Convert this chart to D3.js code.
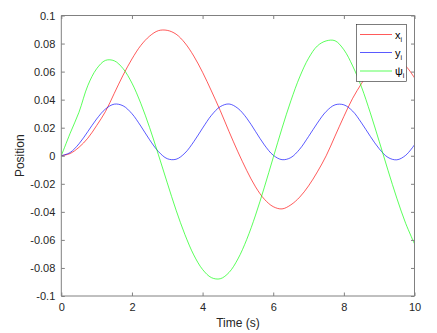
<!DOCTYPE html>
<html><head><meta charset="utf-8">
<script src="https://cdn.jsdelivr.net/npm/d3@7"></script>
<style>body{margin:0;background:#fff;}svg{display:block;font-family:"Liberation Sans",Arial,sans-serif;}</style>
</head><body>
<svg id="c" width="437" height="333"></svg>
<script>
const time = [0,0.25,0.5,0.75,1,1.25,1.5,1.75,2,2.25,2.5,2.75,3,3.25,3.5,3.75,4,4.25,4.5,4.75,5,5.25,5.5,5.75,6,6.25,6.5,6.75,7,7.25,7.5,7.75,8,8.25,8.5,8.75,9,9.25,9.5,9.75,10];
const xi = [0,0.0016,0.0060,0.0125,0.0215,0.0315,0.0445,0.0575,0.0690,0.0786,0.0853,0.0892,0.0894,0.0867,0.0804,0.0711,0.0595,0.0462,0.0322,0.0172,0.0028,-0.0105,-0.0222,-0.0310,-0.0363,-0.0379,-0.0350,-0.0295,-0.0215,-0.0115,0.0000,0.0140,0.0280,0.0410,0.0515,0.0610,0.0670,0.0690,0.0680,0.0640,0.0555];
const yi = [0,0.0023,0.0085,0.0172,0.0262,0.0333,0.0368,0.0356,0.0300,0.0212,0.0114,0.0030,-0.0021,-0.0025,0.0019,0.0100,0.0197,0.0288,0.0350,0.0369,0.0338,0.0268,0.0173,0.0077,0.0004,-0.0028,-0.0013,0.0047,0.0137,0.0233,0.0316,0.0363,0.0363,0.0318,0.0234,0.0138,0.0050,-0.0012,-0.0029,0.0003,0.0078];
const psi = [0,0.0160,0.0310,0.0500,0.0620,0.0680,0.0677,0.0621,0.0518,0.0374,0.0201,0.0007,-0.0193,-0.0388,-0.0562,-0.0707,-0.0811,-0.0869,-0.0877,-0.0832,-0.0736,-0.0597,-0.0423,-0.0224,-0.0013,0.0197,0.0392,0.0562,0.0695,0.0783,0.0819,0.0820,0.0756,0.0640,0.0490,0.0305,0.0103,-0.0104,-0.0303,-0.0482,-0.0628];
const xTicks = [0,2,4,6,8,10];
const yTicks = [-0.1,-0.08,-0.06,-0.04,-0.02,0,0.02,0.04,0.06,0.08,0.1];
const seriesNames = ["x","y","\u03C8"];
const seriesColors = ["#ff0000","#0000ff","#00ff00"];

const svg = d3.select("#c");
const L=61.3, R=414.5, T=15.5, B=296;
const x = d3.scaleLinear().domain([0,10]).range([L,R]);
const y = d3.scaleLinear().domain([-0.1,0.1]).range([B,T]);
const axCol = "#808080", txtCol = "#262626";

const series = [xi, yi, psi];
const line = d3.line().x((d,i)=>x(time[i])).y(d=>y(d)).curve(d3.curveCatmullRom.alpha(0.5));
const plot = svg.append("g");
plot.append("defs").append("clipPath").attr("id","clip").append("rect").attr("x",L).attr("y",T).attr("width",R-L).attr("height",B-T);
series.forEach((s,k)=>{
  plot.append("path").datum(s).attr("d",line).attr("fill","none")
    .attr("stroke",seriesColors[k]).attr("stroke-width",0.65).attr("clip-path","url(#clip)");
});

// axes
const tl = 3.5;
const gB = svg.append("g").attr("transform",`translate(0,${B})`).call(d3.axisBottom(x).tickValues(xTicks).tickSize(-tl).tickPadding(7).tickFormat(d3.format("d")));
const gT = svg.append("g").attr("transform",`translate(0,${T})`).call(d3.axisTop(x).tickValues(xTicks).tickSize(-tl).tickFormat(""));
const gL = svg.append("g").attr("transform",`translate(${L},0)`).call(d3.axisLeft(y).tickValues(yTicks).tickSize(-tl).tickPadding(6).tickFormat(d=>d===0?"0":String(+d.toFixed(2))));
const gR = svg.append("g").attr("transform",`translate(${R},0)`).call(d3.axisRight(y).tickValues(yTicks).tickSize(-tl).tickFormat(""));
[gB,gT,gL,gR].forEach(g=>{
  g.select(".domain").attr("stroke",axCol).attr("stroke-width",1);
  g.selectAll(".tick line").attr("stroke",axCol);
  g.selectAll(".tick text").attr("fill",txtCol).attr("font-size",11).attr("font-family","Liberation Sans, Arial, sans-serif");
});
gB.select(".domain").attr("d",`M${L},0H${R}`);
gT.select(".domain").attr("d",`M${L},0H${R}`);
gL.select(".domain").attr("d",`M0,${B}V${T}`);
gR.select(".domain").attr("d",`M0,${B}V${T}`);

svg.append("text").attr("x",(L+R)/2).attr("y",327).attr("text-anchor","middle").attr("font-size",12).attr("fill",txtCol).text("Time (s)");
svg.append("text").attr("transform",`translate(24,${(T+B)/2}) rotate(-90)`).attr("text-anchor","middle").attr("font-size",12).attr("fill",txtCol).text("Position");

// legend
const lg = svg.append("g");
lg.append("rect").attr("x",356.5).attr("y",24.5).attr("width",50).attr("height",57).attr("fill","#fff").attr("stroke","#262626").attr("stroke-width",0.6);
const rowsY = [34.5,52.5,71];
seriesNames.forEach((n,k)=>{
  lg.append("line").attr("x1",360).attr("x2",392).attr("y1",rowsY[k]).attr("y2",rowsY[k]).attr("stroke",seriesColors[k]).attr("stroke-width",0.65);
  const t = lg.append("text").attr("x",395).attr("y",rowsY[k]+4).attr("font-size",11).attr("fill","#000");
  t.append("tspan").text(n);
  t.append("tspan").attr("dy",3).attr("font-size",7).text("i");
});
</script>
</body></html>
